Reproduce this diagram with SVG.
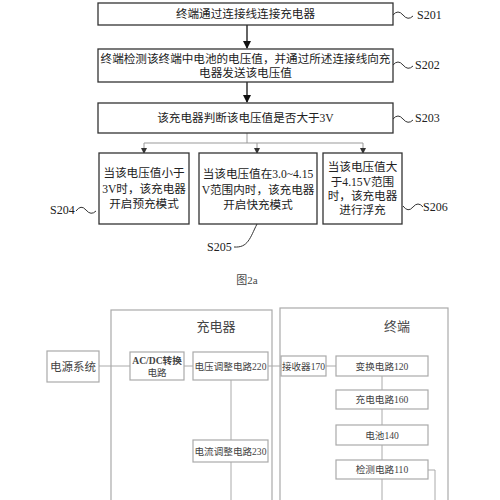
<svg xmlns="http://www.w3.org/2000/svg" width="500" height="500" viewBox="0 0 500 500">
<style>
.fb{fill:#fff;stroke:#333;stroke-width:1.3}
.ft{font-family:"Liberation Serif","Noto Sans CJK SC",serif;font-size:11.6px;fill:#222;text-anchor:middle}
.sl{font-family:"Liberation Serif","Noto Sans CJK SC",serif;font-size:12px;fill:#222}
.wv{fill:none;stroke:#333;stroke-width:1}
.br{fill:none;stroke:#999;stroke-width:1}
.lb{fill:#fff;stroke:#aaa;stroke-width:1.2}
.cb{fill:none;stroke:#aaa;stroke-width:1.2}
.lt{font-family:"Liberation Serif","Noto Sans CJK SC",serif;font-size:9.6px;fill:#444;text-anchor:middle}
.ln{fill:none;stroke:#aaa;stroke-width:1}
</style>
<defs>
<marker id="ah" markerWidth="8" markerHeight="8" refX="7" refY="4" orient="auto" markerUnits="userSpaceOnUse"><path d="M0,0 L8,4 L0,8 Z" fill="#111"/></marker>
<marker id="as" markerWidth="6" markerHeight="6" refX="5" refY="3" orient="auto" markerUnits="userSpaceOnUse"><path d="M0,0 L6,3 L0,6 Z" fill="#333"/></marker>
</defs>
<rect width="500" height="500" fill="#fff"/>
<g id="charger"><rect class="cb" x="111" y="310" width="161" height="200"/><text class="lt" x="216" y="331" style="font-size:13px">充电器</text></g>
<g id="terminal"><rect class="cb" x="280" y="308" width="168" height="202"/><text class="lt" x="397" y="331" style="font-size:13px">终端</text></g>
<g id="connectors">
<line x1="247" y1="25" x2="247" y2="48" stroke="#111" stroke-width="1.3" marker-end="url(#ah)"/>
<line x1="247" y1="82" x2="247" y2="102" stroke="#111" stroke-width="1.3" marker-end="url(#ah)"/>
<path class="br" d="M247,133 V143 M144,143 H363"/>
<line class="br" x1="144" y1="143" x2="144" y2="153" marker-end="url(#as)"/>
<line class="br" x1="257" y1="143" x2="257" y2="153" marker-end="url(#as)"/>
<line class="br" x1="363" y1="143" x2="363" y2="153" marker-end="url(#as)"/>
<path class="wv" d="M393,15 q5,-6 10,0 t10,1"/>
<path class="wv" d="M393,65 q5,-6 10,0 t10,1"/>
<path class="wv" d="M393,119 q5,-6 10,0 t10,1"/>
<path class="wv" d="M76,211 q5,-7 10,-1 t10,1"/>
<path class="wv" d="M403,206 q5,7 10,1 t10,0"/>
<path class="wv" d="M257,224 C250,238 248,248 234,247"/>
<path class="ln" d="M99,366 H130 M184,366 H193 M268,366 H281 M326,366 H336"/>
<path class="ln" d="M231,380 V440 M231,462 V500"/>
<path class="ln" d="M382,376 V390 M382,409 V425 M382,445 V460 M382,479 V500"/>
<path class="ln" d="M428,470 H435 V500"/>
</g>
<g id="s201"><rect class="fb" x="98" y="3" width="295" height="22"/><text class="ft" x="245.5" y="18">终端通过连接线连接充电器</text></g>
<g id="s202"><rect class="fb" x="98" y="49" width="295" height="33"/><text class="ft" x="245.5" y="63">终端检测该终端中电池的电压值，并通过所述连接线向充</text><text class="ft" x="245.5" y="77">电器发送该电压值</text></g>
<g id="s203"><rect class="fb" x="98" y="103" width="295" height="30"/><text class="ft" x="245.5" y="122">该充电器判断该电压值是否大于3V</text></g>
<g id="s204"><rect class="fb" x="99" y="153" width="90" height="71"/><text class="ft" x="144" y="177">当该电压值小于</text><text class="ft" x="144" y="193">3V时，该充电器</text><text class="ft" x="144" y="208">开启预充模式</text></g>
<g id="s205"><rect class="fb" x="199" y="153" width="118" height="71"/><text class="ft" x="258" y="178">当该电压值在3.0~4.15</text><text class="ft" x="258" y="194">V范围内时，该充电器</text><text class="ft" x="258" y="209">开启快充模式</text></g>
<g id="s206"><rect class="fb" x="323" y="153" width="79" height="71"/><text class="ft" x="362.5" y="171">当该电压值大</text><text class="ft" x="362.5" y="186">于4.15V范围</text><text class="ft" x="362.5" y="200">时，该充电器</text><text class="ft" x="362.5" y="214">进行浮充</text></g>
<g id="labels">
<text class="sl" x="417" y="19">S201</text>
<text class="sl" x="415" y="69">S202</text>
<text class="sl" x="415" y="122">S203</text>
<text class="sl" x="50" y="214">S204</text>
<text class="sl" x="207" y="251">S205</text>
<text class="sl" x="423" y="211">S206</text>
<text class="lt" x="247" y="284" style="font-size:11px">图2a</text>
</g>
<g id="power"><rect class="lb" x="47" y="351" width="52" height="31"/><text class="lt" x="73" y="371" style="font-size:11.5px">电源系统</text></g>
<g id="acdc"><rect class="lb" x="130" y="352" width="54" height="28"/><text class="lt" x="157" y="364" style="font-weight:600">AC/DC转换</text><text class="lt" x="157" y="376">电路</text></g>
<g id="v220"><rect class="lb" x="193" y="352" width="75" height="28"/><text class="lt" x="230.5" y="370">电压调整电路220</text></g>
<g id="i230"><rect class="lb" x="193" y="440" width="75" height="22"/><text class="lt" x="230.5" y="455">电流调整电路230</text></g>
<g id="r170"><rect class="lb" x="281" y="356" width="45" height="20"/><text class="lt" x="303.5" y="370">接收器170</text></g>
<g id="c120"><rect class="lb" x="336" y="356" width="92" height="20"/><text class="lt" x="382" y="370">变换电路120</text></g>
<g id="c160"><rect class="lb" x="336" y="390" width="92" height="19"/><text class="lt" x="382" y="403">充电电路160</text></g>
<g id="b140"><rect class="lb" x="336" y="425" width="92" height="20"/><text class="lt" x="382" y="439">电池140</text></g>
<g id="d110"><rect class="lb" x="336" y="460" width="92" height="19"/><text class="lt" x="382" y="473">检测电路110</text></g>
</svg>
